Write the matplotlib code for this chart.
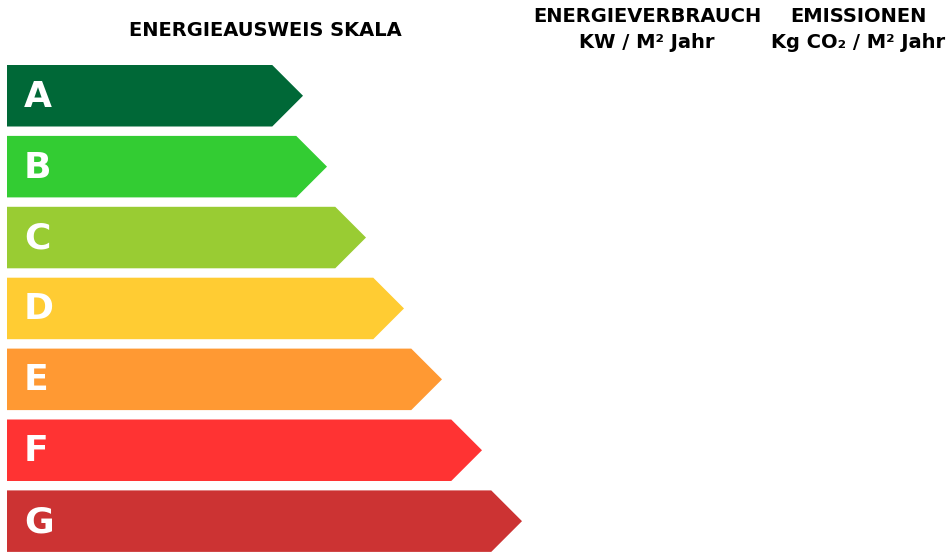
import matplotlib
matplotlib.use("Agg")
import matplotlib.pyplot as plt

# Effizienzklassen und Pfeillaengen (Spitze in Pixel)
klassen = ["A", "B", "C", "D", "E", "F", "G"]
spitzen = [303, 327, 366, 404, 442, 482, 522]
farben = ["#006837", "#33cc33", "#99cc33", "#ffcc33", "#ff9933", "#ff3333", "#cc3333"]

titel_links = "ENERGIEAUSWEIS SKALA"
titel_mitte = ["ENERGIEVERBRAUCH", "KW / M\u00b2 Jahr"]
titel_rechts = ["EMISSIONEN", "Kg CO\u2082 / M\u00b2 Jahr"]

fig = plt.figure(figsize=(9.5, 5.52), dpi=100)
ax = fig.add_axes([0, 0, 1, 1])
ax.set_xlim(0, 950)
ax.set_ylim(552, 0)
ax.axis("off")

x0 = 7
oben = 65
hoehe = 61.5
abstand = 70.9

for i, (k, s, f) in enumerate(zip(klassen, spitzen, farben)):
    y1 = oben + i * abstand
    y2 = y1 + hoehe
    ym = (y1 + y2) / 2
    knick = s - hoehe / 2
    ax.fill([x0, knick, s, knick, x0], [y1, y1, ym, y2, y2], color=f, lw=0)
    ax.text(24, ym + 1, k, color="white", fontsize=26, fontweight="bold",
            ha="left", va="center")

fs = 14
ax.text(265, 30, titel_links, fontsize=fs, fontweight="bold", ha="center", va="center")
ax.text(647, 16, titel_mitte[0], fontsize=fs, fontweight="bold", ha="center", va="center")
ax.text(647, 43, titel_mitte[1], fontsize=fs, fontweight="bold", ha="center", va="center")
ax.text(858, 16, titel_rechts[0], fontsize=fs, fontweight="bold", ha="center", va="center")
ax.text(858, 43, titel_rechts[1], fontsize=fs, fontweight="bold", ha="center", va="center")

fig.savefig("out.png", dpi=100)
